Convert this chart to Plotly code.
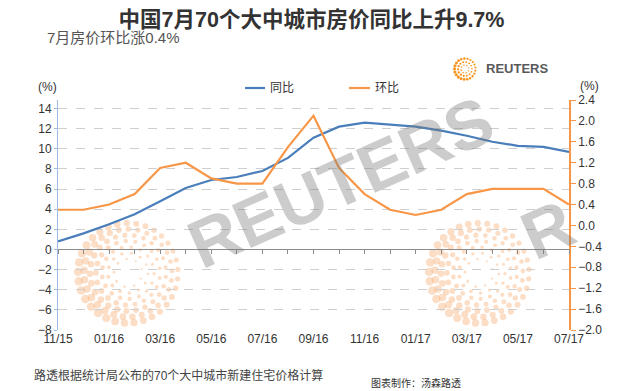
import math
import plotly.graph_objects as go

# ---------------- data ----------------
months = ["11/15", "12/15", "01/16", "02/16", "03/16", "04/16", "05/16", "06/16",
          "07/16", "08/16", "09/16", "10/16", "11/16", "12/16", "01/17", "02/17",
          "03/17", "04/17", "05/17", "06/17", "07/17"]
yoy = [0.8, 1.6, 2.5, 3.5, 4.8, 6.1, 6.9, 7.2, 7.8, 9.1, 11.1, 12.2, 12.6, 12.4,
       12.2, 11.8, 11.3, 10.7, 10.3, 10.2, 9.7]          # 同比 (left axis)
mom = [0.3, 0.3, 0.4, 0.6, 1.1, 1.2, 0.9, 0.8, 0.8, 1.5, 2.1, 1.1, 0.6, 0.3,
       0.2, 0.3, 0.6, 0.7, 0.7, 0.7, 0.4]                  # 环比 (right axis)
left_ticks = [-8, -6, -4, -2, 0, 2, 4, 6, 8, 10, 12, 14]
right_ticks = [-2.0, -1.6, -1.2, -0.8, -0.4, 0.0, 0.4, 0.8, 1.2, 1.6, 2.0, 2.4]
x_labels = months[::2]
series_names = ["同比", "环比"]

title_text = "中国7月70个大中城市房价同比上升9.7%"
subtitle_text = "7月房价环比涨0.4%"
source_text = "路透根据统计局公布的70个大中城市新建住宅价格计算"
credit_text = "图表制作：汤森路透"

# ---------------- layout geometry ----------------
OFF = 8                                  # page body margin of the html page
W, H = 625 - OFF, 391 - OFF
L, R, T, B = 58 - OFF, 569 - OFF, 100 - OFF, 330 - OFF   # plot area (figure px)
LEFT_RANGE = [-8, 14.85]
RIGHT_RANGE = [-2.0, 2.4]

BLUE = "#4a7ebb"
ORANGE = "#f79646"
FONT = "Liberation Sans, Arial, Noto Sans CJK SC, sans-serif"


def fx(px):
    """page pixel x -> paper fraction"""
    return (px - OFF - L) / (R - L)


def fy(py):
    """page pixel y -> paper fraction"""
    return (B - (py - OFF)) / (B - T)


fig = go.Figure()

fig.add_trace(go.Scatter(x=months, y=yoy, name=series_names[0], mode="lines",
                         line=dict(color=BLUE, width=2.2), yaxis="y", xaxis="x",
                         showlegend=False))
fig.add_trace(go.Scatter(x=months, y=mom, name=series_names[1], mode="lines",
                         line=dict(color=ORANGE, width=2.2), yaxis="y2", xaxis="x",
                         showlegend=False))
# invisible helper so the zero-line category axis is drawn
fig.add_trace(go.Scatter(x=months, y=yoy, mode="lines", opacity=0,
                         line=dict(width=0), xaxis="x2", yaxis="y",
                         showlegend=False, hoverinfo="skip"))

# ---------------- decorative watermark dots ----------------
shapes = []


def burst(cx, cy, radii, spacing, base, gain, color, phase=200, layer="between"):
    for r in radii:
        n = max(6, int(round(2 * math.pi * r / spacing)))
        for k in range(n):
            th = 2 * math.pi * k / n + (r * 0.07)
            d = base + gain * r * (0.55 + 0.45 * (1 + math.cos(th - math.radians(phase))) / 2)
            px = cx + r * math.cos(th)
            py = cy - r * math.sin(th)
            shapes.append(dict(type="circle", xref="paper", yref="paper",
                               x0=fx(px - d / 2), x1=fx(px + d / 2),
                               y0=fy(py + d / 2), y1=fy(py - d / 2),
                               fillcolor=color, line=dict(width=0), layer=layer))


wm_color = "rgba(247,170,110,0.40)"
burst(128, 273, [14, 20, 26, 32, 38, 44, 50], 9.5, 1.0, 0.15, wm_color, phase=200)
burst(479, 273, [14, 20, 26, 32, 38, 44, 50], 9.5, 1.0, 0.15, wm_color, phase=200)
# logo dots
burst(465, 69, [4, 7, 10.5], 3.2, 0.8, 0.22, "#f7941d", phase=200, layer="above")

# ---------------- manual legend ----------------
legend_items = [(245, 265, 268, BLUE, series_names[0]),
                (349, 370, 373, ORANGE, series_names[1])]
for x0, x1, _, col, _ in legend_items:
    shapes.append(dict(type="line", xref="paper", yref="paper",
                       x0=fx(x0), x1=fx(x1), y0=fy(88), y1=fy(88),
                       line=dict(color=col, width=2.2), layer="above"))

wm_font = dict(size=68, color="rgba(120,120,120,0.38)", family="Liberation Sans, Arial")
annotations = [
    dict(text="<b>REUTERS</b>", x=fx(340), y=fy(182), xref="paper", yref="paper",
         showarrow=False, textangle=-24, font=wm_font),
    dict(text="<b>R</b>", x=fx(588), y=fy(229), xref="paper", yref="paper",
         showarrow=False, textangle=-24, font=wm_font),
    dict(text=subtitle_text, x=fx(45), y=fy(37.5), xref="paper", yref="paper",
         xanchor="left", yanchor="middle", showarrow=False,
         font=dict(size=15, color="#555555", family=FONT)),
    dict(text="<b>REUTERS</b>", x=fx(484), y=fy(69), xref="paper", yref="paper",
         xanchor="left", yanchor="middle", showarrow=False,
         font=dict(size=13, color="#5a5a5a", family=FONT)),
    dict(text="(%)", x=fx(47), y=fy(87), xref="paper", yref="paper",
         xanchor="center", yanchor="middle", showarrow=False,
         font=dict(size=12, color="#333333", family=FONT)),
    dict(text="(%)", x=fx(589), y=fy(86), xref="paper", yref="paper",
         xanchor="center", yanchor="middle", showarrow=False,
         font=dict(size=12, color="#333333", family=FONT)),
    dict(text=source_text, x=fx(32), y=fy(375), xref="paper", yref="paper",
         xanchor="left", yanchor="middle", showarrow=False,
         font=dict(size=12, color="#444444", family=FONT)),
    dict(text=credit_text, x=fx(369), y=fy(383), xref="paper", yref="paper",
         xanchor="left", yanchor="middle", showarrow=False,
         font=dict(size=10, color="#333333", family=FONT)),
]
for _, _, tx, _, name in legend_items:
    annotations.append(dict(text=name, x=fx(tx), y=fy(88), xref="paper", yref="paper",
                            xanchor="left", yanchor="middle", showarrow=False,
                            font=dict(size=12, color="#333333", family=FONT)))

fig.update_layout(
    width=W, height=H,
    margin=dict(l=L, r=W - R, t=T, b=H - B, pad=0),
    paper_bgcolor="white", plot_bgcolor="white",
    font=dict(family=FONT, size=12, color="#333333"),
    title=dict(text="<b>" + title_text + "</b>", x=(311.5 - OFF) / W, xanchor="center",
               y=1 - (19.5 - OFF) / H, yanchor="middle",
               font=dict(size=21.5, color="#333333", family=FONT)),
    showlegend=False,
    xaxis=dict(type="category", categoryorder="array", categoryarray=months,
               range=[0, len(months) - 1], tickvals=x_labels, ticktext=x_labels,
               showgrid=False, zeroline=False, showline=False, ticks="",
               tickfont=dict(size=12, color="#333333"), anchor="y", fixedrange=True),
    xaxis2=dict(type="category", categoryorder="array", categoryarray=months,
                range=[0, len(months) - 1], overlaying="x", anchor="free",
                position=(0 - LEFT_RANGE[0]) / (LEFT_RANGE[1] - LEFT_RANGE[0]),
                tickvals=months, showticklabels=False, showgrid=False, zeroline=False,
                showline=True, linecolor="#8c8c8c", linewidth=1,
                ticks="outside", ticklen=4, tickcolor="#8c8c8c", tickwidth=1),
    yaxis=dict(range=LEFT_RANGE, tickvals=left_ticks, showgrid=True,
               gridcolor="#cfcfcf", griddash="dash", gridwidth=1,
               zeroline=True, zerolinecolor="#8c8c8c", zerolinewidth=1,
               showline=True, linecolor="#9dbbe3", linewidth=1,
               ticks="outside", ticklen=3, tickcolor="#9dbbe3",
               tickfont=dict(size=12, color="#333333")),
    yaxis2=dict(range=RIGHT_RANGE, tickvals=right_ticks, tickformat=".1f",
                overlaying="y", side="right", showgrid=False, zeroline=False,
                showline=True, linecolor=ORANGE, linewidth=1.5,
                ticks="outside", ticklen=5, tickcolor=ORANGE,
                tickfont=dict(size=12, color="#333333")),
    shapes=shapes,
    annotations=annotations,
)

fig.write_html("out.html")
